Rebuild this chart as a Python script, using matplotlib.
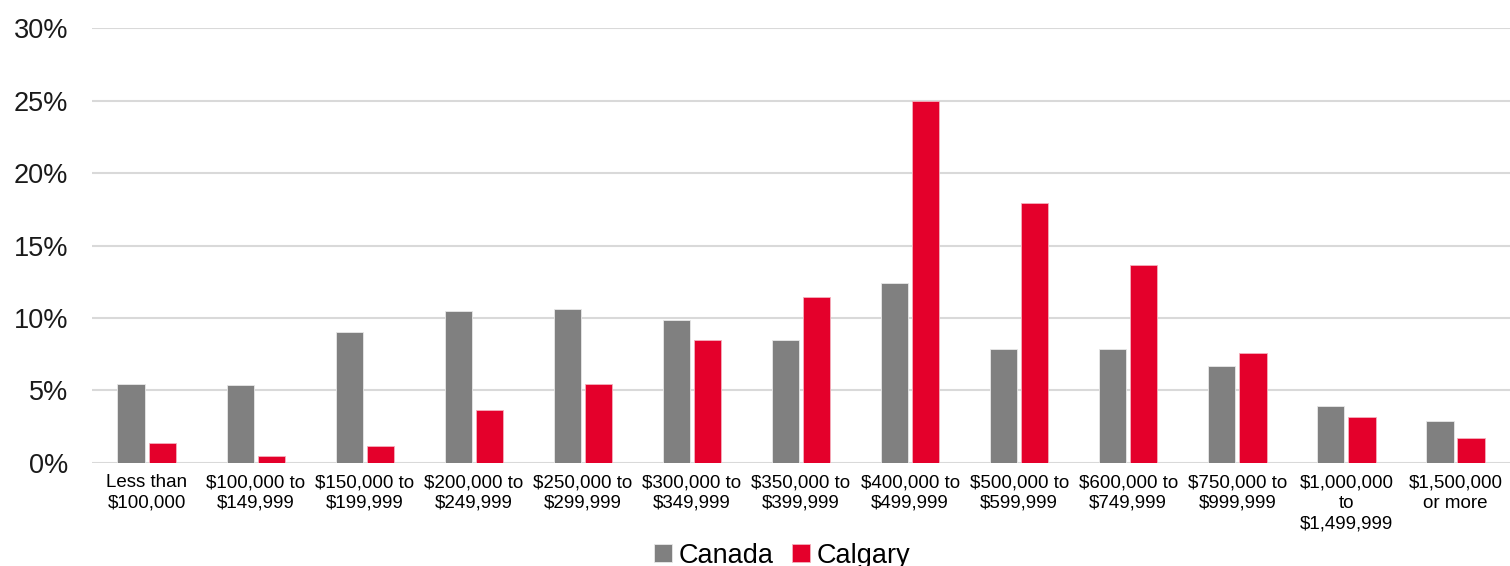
import numpy as np
import matplotlib.pyplot as plt
from matplotlib.ticker import PercentFormatter

plt.rcParams['font.family'] = ['Liberation Sans', 'DejaVu Sans']

categorias = [
    "Less than\n$100,000", "$100,000 to\n$149,999", "$150,000 to\n$199,999",
    "$200,000 to\n$249,999", "$250,000 to\n$299,999", "$300,000 to\n$349,999",
    "$350,000 to\n$399,999", "$400,000 to\n$499,999", "$500,000 to\n$599,999",
    "$600,000 to\n$749,999", "$750,000 to\n$999,999", "$1,000,000\nto\n$1,499,999",
    "$1,500,000\nor more",
]
canada = [5.45, 5.38, 9.03, 10.48, 10.62, 9.86, 8.48, 12.41, 7.86, 7.86, 6.69, 3.93, 2.90]
calgary = [1.38, 0.48, 1.17, 3.66, 5.45, 8.48, 11.45, 24.97, 17.93, 13.66, 7.59, 3.17, 1.72]

x = np.arange(len(categorias))
ancho = 0.25
sep = 0.035

fig = plt.figure(figsize=(15.1, 5.66), dpi=100)
ax = fig.add_axes([0.061, 0.182, 0.939, 0.7685])

ax.bar(x - ancho / 2 - sep / 2, canada, ancho, color='#808080',
       edgecolor='#e8e8e8', linewidth=0.6, label='Canada', zorder=3)
ax.bar(x + ancho / 2 + sep / 2, calgary, ancho, color='#e4002b',
       edgecolor='#f4b0bc', linewidth=0.6, label='Calgary', zorder=3)

ax.set_xlim(-0.5, len(categorias) - 0.5)
ax.set_ylim(0, 30)
ax.set_yticks(np.arange(0, 31, 5))
ax.yaxis.set_major_formatter(PercentFormatter(decimals=0))
ax.grid(axis='y', color='#d9d9d9', linewidth=1.5, zorder=0)

ax.set_xticks(x)
ax.set_xticklabels(categorias, fontsize=13.5, linespacing=1.3)
ax.tick_params(axis='x', length=0, pad=8)
ax.tick_params(axis='y', length=0, labelsize=19.5, pad=17)
for lbl in ax.get_yticklabels():
    lbl.set_color('#1a1a1a')

for s in ax.spines.values():
    s.set_visible(False)

fig.legend(loc='lower center', bbox_to_anchor=(0.518, -0.048), ncol=2,
           frameon=False, fontsize=19.5, handlelength=0.65, handleheight=0.65,
           handletextpad=0.25, columnspacing=0.7)

fig.savefig('out.png', dpi=100)
